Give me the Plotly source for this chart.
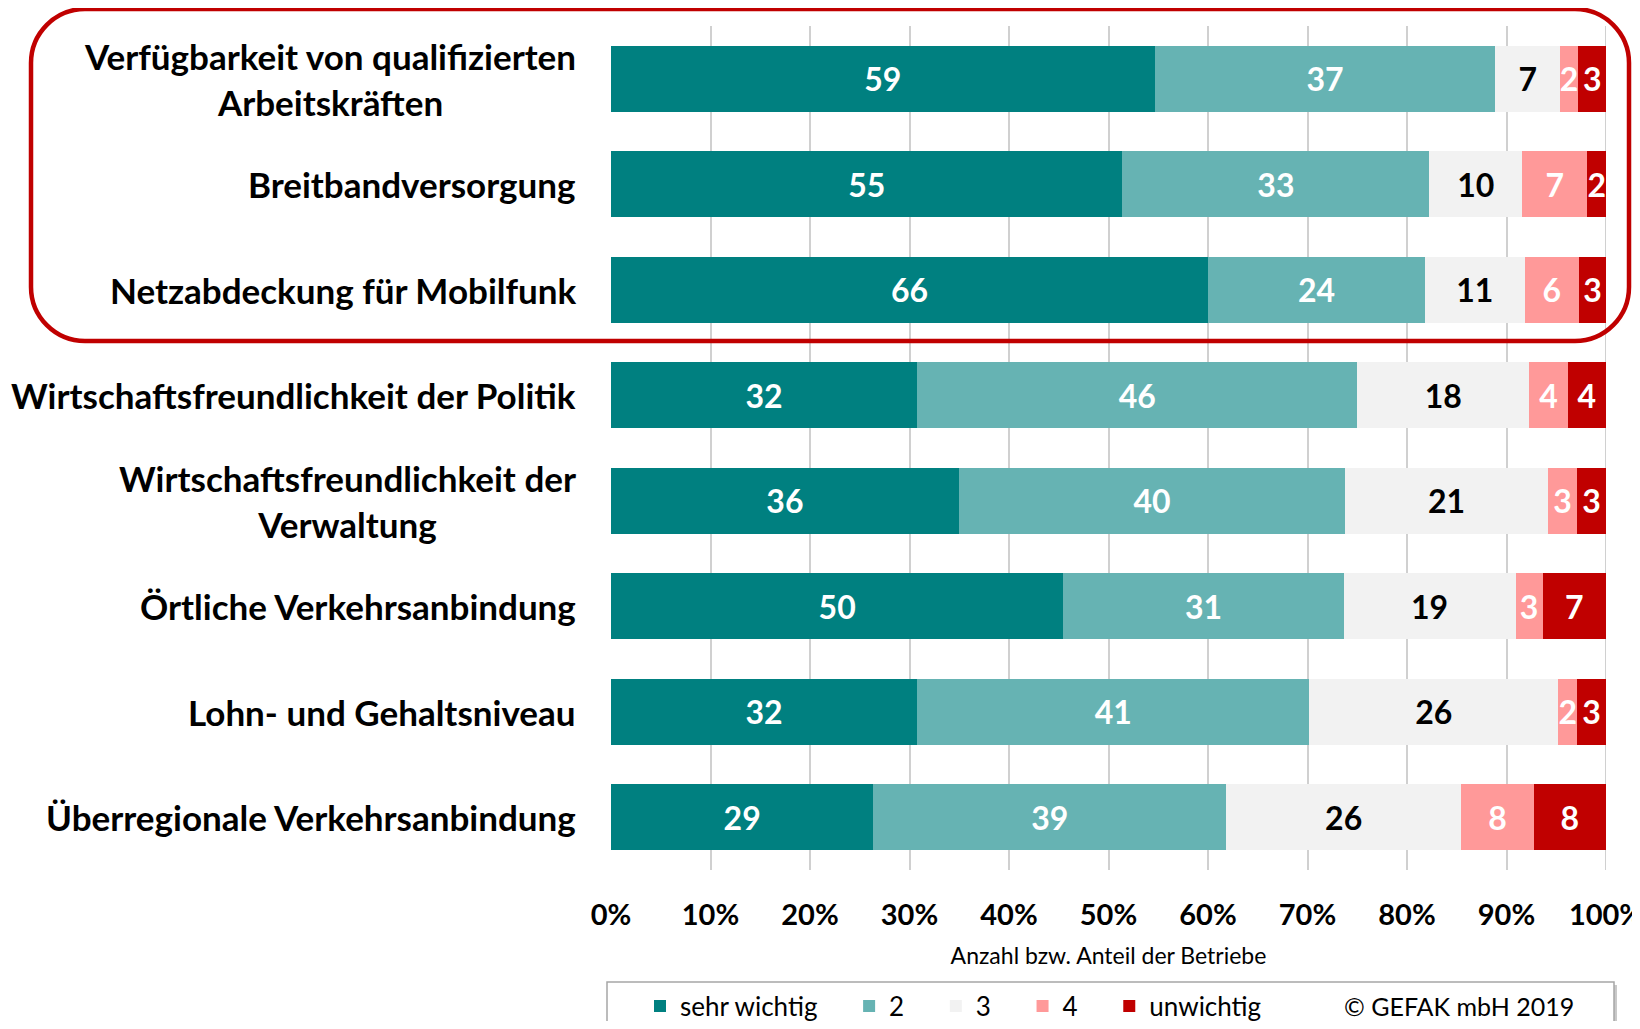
import plotly.graph_objects as go

# ---------------- data ----------------
categories = [
    "Verfügbarkeit von qualifizierten<br>Arbeitskräften",
    "Breitbandversorgung",
    "Netzabdeckung für Mobilfunk",
    "Wirtschaftsfreundlichkeit der Politik",
    "Wirtschaftsfreundlichkeit der<br>Verwaltung",
    "Örtliche Verkehrsanbindung",
    "Lohn- und Gehaltsniveau",
    "Überregionale Verkehrsanbindung",
]
series_names = ["sehr wichtig", "2", "3", "4", "unwichtig"]
sehr_wichtig = [59, 55, 66, 32, 36, 50, 32, 29]
wert_2 = [37, 33, 24, 46, 40, 31, 41, 39]
wert_3 = [7, 10, 11, 18, 21, 19, 26, 26]
wert_4 = [2, 7, 6, 4, 3, 3, 2, 8]
unwichtig = [3, 2, 3, 4, 3, 7, 3, 8]
x_tickvals = [0, 10, 20, 30, 40, 50, 60, 70, 80, 90, 100]
x_ticktext = ["0%", "10%", "20%", "30%", "40%", "50%", "60%", "70%", "80%", "90%", "100%"]
x_title = "Anzahl bzw. Anteil der Betriebe"
copyright_text = "© GEFAK mbH 2019"

# ---------------- style ----------------
colors = ["#008080", "#66B3B3", "#F2F2F2", "#FF9999", "#C00000"]
text_colors = ["white", "white", "black", "white", "white"]
FONT = "Lato"

# geometry: page body has an 8px margin, so the figure is placed at (8, 8);
# keep the figure inside the visible page area
OFF = 8
WIDTH, HEIGHT = 1640 - 2 * OFF, 1029 - 2 * OFF
PLOT_RIGHT_REF, PLOT_BOTTOM_REF = 1606, 870
M_L, M_T = 611 - OFF, 26 - OFF
M_R = WIDTH - (PLOT_RIGHT_REF - OFF)
M_B = HEIGHT - (PLOT_BOTTOM_REF - OFF)
PW = WIDTH - M_L - M_R
PH = HEIGHT - M_T - M_B


def px(xp, yp):
    """reference-page pixel -> paper coordinates"""
    xf, yf = xp - OFF, yp - OFF
    return (xf - M_L) / PW, (HEIGHT - M_B - yf) / PH


values = [sehr_wichtig, wert_2, wert_3, wert_4, unwichtig]

fig = go.Figure()
for name, vals, col, tcol in zip(series_names, values, colors, text_colors):
    fig.add_trace(go.Bar(
        y=categories, x=vals, orientation="h",
        name=name + "\u00a0" * 4,
        marker=dict(color=col, line=dict(width=0)),
        text=[str(v) for v in vals],
        textposition="inside", insidetextanchor="middle",
        constraintext="none", textangle=0,
        textfont=dict(family=FONT, size=32, color=tcol, weight="bold"),
        hoverinfo="skip",
    ))

# category labels (centered multi-line, right-aligned block)
annotations = []
for c in categories:
    annotations.append(dict(
        x=0, xref="paper", y=c, yref="y", xanchor="right", yanchor="middle",
        xshift=-33, align="center", showarrow=False, text=c,
        font=dict(family=FONT, size=35, color="black", weight="bold"),
    ))

gx, gy = px(1459, 1006)
annotations.append(dict(
    x=gx, y=gy, xref="paper", yref="paper", xanchor="center", yanchor="middle",
    showarrow=False, text=copyright_text,
    font=dict(family=FONT, size=25, color="black"),
))


def rounded_path(x0, y0, x1, y1, r):
    k = 0.5523 * r

    def P(a, b):
        u, v = px(a, b)
        return f"{u:.5f},{v:.5f}"
    s = f"M{P(x0 + r, y0)} L{P(x1 - r, y0)} "
    s += f"C{P(x1 - r + k, y0)} {P(x1, y0 + r - k)} {P(x1, y0 + r)} "
    s += f"L{P(x1, y1 - r)} "
    s += f"C{P(x1, y1 - r + k)} {P(x1 - r + k, y1)} {P(x1 - r, y1)} "
    s += f"L{P(x0 + r, y1)} "
    s += f"C{P(x0 + r - k, y1)} {P(x0, y1 - r + k)} {P(x0, y1 - r)} "
    s += f"L{P(x0, y0 + r)} "
    s += f"C{P(x0, y0 + r - k)} {P(x0 + r - k, y0)} {P(x0 + r, y0)} Z"
    return s


shapes = [
    # gridline at 100 %
    dict(type="line", xref="x", yref="paper", x0=100, x1=100, y0=0, y1=1,
         line=dict(color="#D0D0D0", width=2), layer="below"),
    # rounded red frame
    dict(type="path", xref="paper", yref="paper",
         path=rounded_path(31, 9, 1629, 341, 54),
         line=dict(color="#C00000", width=4.5), layer="above"),
]
# legend box with light shadow
sx0, sy0 = px(610, 985)
sx1, sy1 = px(1617, 1040)
shapes.append(dict(type="rect", xref="paper", yref="paper", x0=sx0, y0=sy1, x1=sx1, y1=sy0,
                   line=dict(width=0), fillcolor="#C9C9C9", layer="above"))
lx0, ly0 = px(607, 982)
lx1, ly1 = px(1614, 1040)
shapes.append(dict(type="rect", xref="paper", yref="paper", x0=lx0, y0=ly1, x1=lx1, y1=ly0,
                   line=dict(color="#A6A6A6", width=1.5), fillcolor="white", layer="above"))

leg_x, _ = px(640, 1006)
leg_y = 1 - (1006 - OFF) / HEIGHT

fig.update_layout(
    width=WIDTH, height=HEIGHT,
    margin=dict(l=M_L, r=M_R, t=M_T, b=M_B, pad=0, autoexpand=False),
    barmode="stack", barnorm="percent", bargap=0.374,
    paper_bgcolor="white", plot_bgcolor="white",
    font=dict(family=FONT, color="black"),
    showlegend=True,
    legend=dict(orientation="h", x=leg_x, y=leg_y, xanchor="left", yanchor="middle",
                yref="container",
                bgcolor="rgba(0,0,0,0)", font=dict(family=FONT, size=26, color="black"),
                traceorder="normal"),
    xaxis=dict(range=[0, 100], tickvals=x_tickvals, ticktext=x_ticktext,
               showgrid=True, gridcolor="#D0D0D0", gridwidth=2,
               zeroline=False, showline=False, ticks="",
               tickfont=dict(family=FONT, size=29, color="black", weight="bold"),
               ticklabelstandoff=25, ticklabeloverflow="allow", automargin=False,
               title=dict(text=x_title, font=dict(family=FONT, size=23, color="black"), standoff=17),
               fixedrange=True),
    yaxis=dict(categoryorder="array", categoryarray=categories, autorange="reversed",
               showticklabels=False, showgrid=False, zeroline=False, showline=False,
               automargin=False, fixedrange=True),
    annotations=annotations,
    shapes=shapes,
)

fig.write_html("out.html")
